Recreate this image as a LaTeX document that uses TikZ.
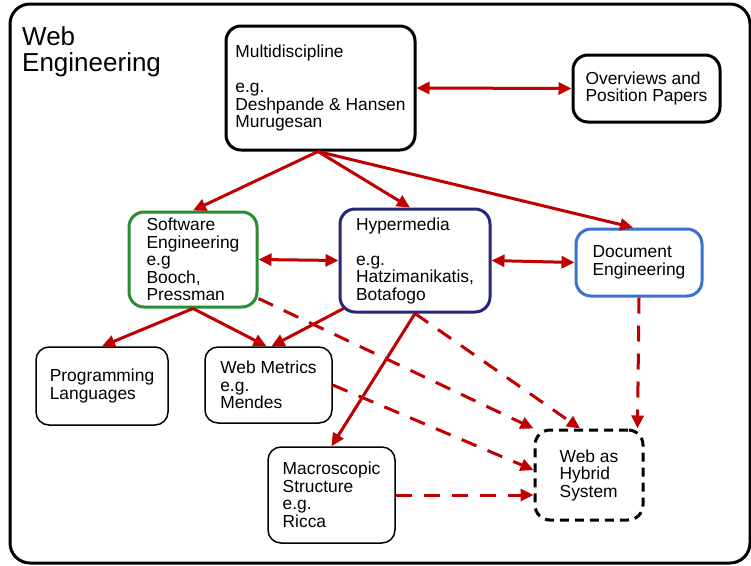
\documentclass[tikz,border=0pt]{standalone}
\usepackage{fontspec}
\setmainfont{Liberation Sans}
\usepackage{xcolor}
\usepackage{tikz}
\usetikzlibrary{arrows.meta, positioning}

\definecolor{linkred}{RGB}{192,0,0}
\definecolor{segreen}{RGB}{40,140,50}
\definecolor{hypnavy}{RGB}{38,38,120}
\definecolor{docblue}{RGB}{58,112,208}

\begin{document}
\begin{tikzpicture}[x=1pt, y=-1pt]
\tikzstyle{topic} = [rectangle, draw, line width=3pt, rounded corners=15pt, align=left, inner sep=0pt, font=\fontsize{17.4}{17.5}\selectfont]
\tikzstyle{minor} = [topic, line width=1.5pt, rounded corners=13pt]
\tikzstyle{flow} = [draw=linkred, line width=3pt, -{Triangle[length=13pt,width=12pt]}]
\tikzstyle{both} = [flow, {Triangle[length=13pt,width=12pt]}-{Triangle[length=13pt,width=12pt]}]
\tikzstyle{hint} = [flow, dash pattern=on 16pt off 12pt]

\useasboundingbox (0,0) rectangle (751,565);
\draw[line width=3pt, rounded corners=20pt] (10,4) rectangle (750,563);

\node (title) [anchor=north west, align=left, inner sep=0pt, font=\fontsize{26}{26.5}\selectfont] at (22,26) {Web\\Engineering};

% top row
\node (multi) [topic, minimum width=189pt, minimum height=124pt] at (320.5,88) {Multidiscipline\\[17.5pt]e.g.\\Deshpande \& Hansen\\Murugesan};
\node (over) [topic, minimum width=147pt, minimum height=67pt] at (646.5,88.5) {Overviews and\\Position Papers};

% middle row
\node (soft) [topic, draw=segreen, minimum width=128pt, minimum height=95pt] at (193,259.5) {Software\\Engineering\\e.g\\Booch,\\Pressman};
\node (hyper) [topic, draw=hypnavy, minimum width=150pt, minimum height=103pt] at (415,260.5) {Hypermedia\\[17.5pt]e.g.\\Hatzimanikatis,\\Botafogo};
\node (doc) [topic, draw=docblue, minimum width=126pt, minimum height=67pt] at (639,262.5) {Document\\Engineering};

% bottom
\node (prog) [minor, minimum width=132pt, minimum height=78pt] at (102,386) {Programming\\Languages};
\node (metric) [minor, minimum width=127pt, minimum height=76pt] at (268.5,385) {Web Metrics\\e.g.\\Mendes};
\node (macro) [minor, minimum width=127pt, minimum height=96pt] at (331.5,495) {Macroscopic\\Structure\\e.g.\\Ricca};
\node (hybrid) [topic, dash pattern=on 9pt off 6pt, minimum width=108pt, minimum height=90pt] at (589,475) {Web as\\Hybrid\\System};

\coordinate (fan) at ([xshift=-2.5pt]multi.south);

\draw[both] (multi.east) -- (over.west);
\draw[both] (soft.east) -- (hyper.west);
\draw[both] (hyper.east) -- (doc.west);

\draw[flow] (fan) -- (soft.north);
\draw[flow] (fan) -- ([xshift=-5pt]hyper.north);
\draw[flow] (fan) -- ([xshift=-6pt]doc.north);
\draw[flow] (soft.south) -- (prog.north);
\draw[flow] (soft.south) -- ([xshift=-2pt]metric.north);
\draw[flow] ([shift={(5,-5)}]hyper.south west) -- ([xshift=3pt]metric.north);
\draw[flow] (hyper.south) -- (macro.north);

\draw[hint] ([yshift=10pt]soft.south east) -- (hybrid.north west);
\draw[hint] (hyper.south) -- ([xshift=-9pt]hybrid.north);
\draw[hint] (metric.east) -- ([yshift=5pt]hybrid.west);
\draw[hint] (macro.east) -- ([yshift=-20pt]hybrid.west);
\draw[hint] (doc.south) -- ([xshift=-7pt]hybrid.north east);

\end{tikzpicture}
\end{document}
